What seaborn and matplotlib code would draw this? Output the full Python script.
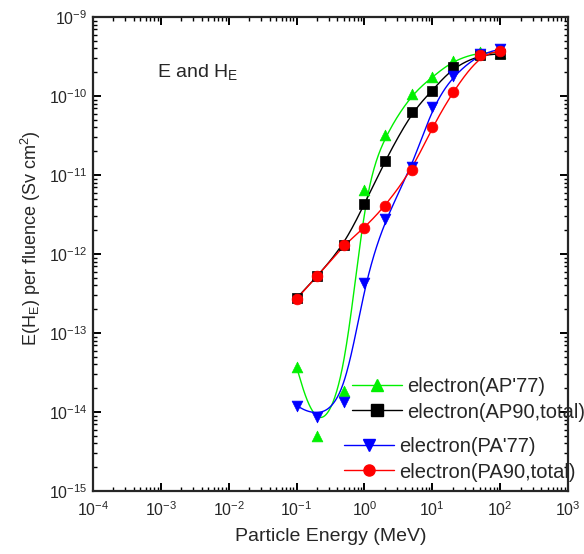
import numpy as np
import matplotlib
matplotlib.use("Agg")
import matplotlib.pyplot as plt
from matplotlib.lines import Line2D
from matplotlib.ticker import LogLocator, NullFormatter
import seaborn as sns

# ---- data ----
energy = [0.1, 0.2, 0.5, 1, 2, 5, 10, 20, 50, 100]
ap77 = [3.7e-14, 5.0e-15, 1.85e-14, 6.4e-12, 3.2e-11, 1.06e-10, 1.73e-10, 2.8e-10, 3.6e-10, 3.5e-10]
ap90 = [2.75e-13, 5.2e-13, 1.3e-12, 4.3e-12, 1.5e-11, 6.3e-11, 1.17e-10, 2.3e-10, 3.3e-10, 3.4e-10]
pa77 = [1.2e-14, 8.7e-15, 1.35e-14, 4.3e-13, 2.75e-12, 1.25e-11, 7.2e-11, 1.8e-10, 3.4e-10, 3.9e-10]
pa90 = [2.7e-13, 5.2e-13, 1.3e-12, 2.15e-12, 4.0e-12, 1.15e-11, 4.0e-11, 1.13e-10, 3.3e-10, 3.7e-10]
labels = ["electron(AP'77)", "electron(AP90,total)", "electron(PA'77)", "electron(PA90,total)"]
x_exps = [-4, -3, -2, -1, 0, 1, 2, 3]
y_exps = [-15, -14, -13, -12, -11, -10, -9]

sns.set_theme(style="ticks")
plt.rcParams['font.family'] = ['Liberation Sans', 'DejaVu Sans']
plt.rcParams['mathtext.fontset'] = 'custom'
plt.rcParams['mathtext.rm'] = 'Liberation Sans'
plt.rcParams['mathtext.it'] = 'Liberation Sans:italic'
plt.rcParams['mathtext.bf'] = 'Liberation Sans:bold'


def bspline(x, y, n=40):
    P = np.column_stack([np.log10(x), np.log10(y)])
    P = np.vstack([P[0], P[0], P, P[-1], P[-1]])
    t = np.linspace(0, 1, n)[:, None]
    b0 = (1 - t) ** 3 / 6
    b1 = (3 * t ** 3 - 6 * t ** 2 + 4) / 6
    b2 = (-3 * t ** 3 + 3 * t ** 2 + 3 * t + 1) / 6
    b3 = t ** 3 / 6
    segs = []
    for i in range(len(P) - 3):
        segs.append(b0 * P[i] + b1 * P[i + 1] + b2 * P[i + 2] + b3 * P[i + 3])
    C = np.vstack(segs)
    return 10 ** C[:, 0], 10 ** C[:, 1]


fig = plt.figure(figsize=(5.84, 5.54), dpi=100)
ax = fig.add_axes([93 / 584, 1 - 491 / 554, 475 / 584, 474 / 554])

series = [
    (ap77, '#00f000', '^'),
    (ap90, 'black', 's'),
    (pa77, '#0000ff', 'v'),
    (pa90, '#ff0000', 'o'),
]
handles = []
for (vals, col, mk), lab in zip(series, labels):
    sx, sy = bspline(energy, vals)
    sns.lineplot(x=sx, y=sy, ax=ax, color=col, lw=1.0, sort=False, estimator=None)
    sns.scatterplot(x=energy, y=vals, ax=ax, color=col, marker=mk, s=60,
                    edgecolor=col, linewidth=0.5, zorder=3)
    handles.append(Line2D([0], [0], color=col, lw=1.0, marker=mk, markersize=8,
                          markeredgecolor=col))

ax.set_xscale('log')
ax.set_yscale('log')
ax.set_xlim(1e-4, 1e3)
ax.set_ylim(1e-15, 1e-9)

for spine in ax.spines.values():
    spine.set_linewidth(1.6)
    spine.set_visible(True)

ax.set_xticks([10.0 ** e for e in x_exps], [rf'$10^{{{e}}}$' for e in x_exps])
ax.set_yticks([10.0 ** e for e in y_exps], [rf'$10^{{{e}}}$' for e in y_exps])
ax.xaxis.set_minor_locator(LogLocator(base=10, subs=np.arange(2, 10), numticks=20))
ax.yaxis.set_minor_locator(LogLocator(base=10, subs=np.arange(2, 10), numticks=20))
ax.xaxis.set_minor_formatter(NullFormatter())
ax.yaxis.set_minor_formatter(NullFormatter())
ax.set_xlim(1e-4, 1e3)
ax.set_ylim(1e-15, 1e-9)
ax.tick_params(which='both', direction='in', top=True, right=True, labelsize=11.5, color='black')
ax.tick_params(which='major', length=6, width=1.4)
ax.tick_params(axis='x', which='major', pad=7)
ax.tick_params(axis='y', which='major', pad=4)
ax.tick_params(which='minor', length=3, width=1.0)

ax.set_xlabel('Particle Energy (MeV)', fontsize=14, labelpad=6)
ax.set_ylabel(r'E(H$_\mathregular{E}$) per fluence (Sv cm$^\mathregular{2}$)', fontsize=13)
ax.yaxis.set_label_coords(-0.105, 0.534)

ax.text(0.135, 0.884, r'E and H$_\mathregular{E}$', transform=ax.transAxes,
        fontsize=14, va='center', ha='left')

common = dict(loc='center left', frameon=False, fontsize=14.5, handlelength=2.5,
              handletextpad=0.25, labelspacing=0.3, borderpad=0, borderaxespad=0)
leg1 = fig.legend(handles[:2], labels[:2], bbox_to_anchor=(352 / 584, 1 - 399.5 / 554), **common)
leg2 = fig.legend(handles[2:], labels[2:], bbox_to_anchor=(344 / 584, 1 - 459.5 / 554), **common)

fig.savefig('out.png', dpi=100)
